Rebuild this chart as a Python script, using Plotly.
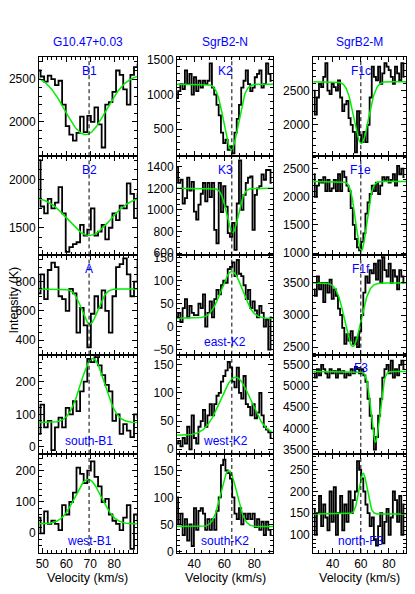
import numpy as np
import plotly.graph_objects as go
from plotly.subplots import make_subplots

# column sources and systemic velocities (dashed lines)
sources = ['G10.47+0.03', 'SgrB2-N', 'SgrB2-M']
v_sys = [69.5, 65.0, 60.0]

# velocity channels (km/s)
vel_g10 = [48.5, 50.0, 51.5, 53.0, 54.5, 56.0, 57.5, 59.0, 60.5, 62.0, 63.5, 65.0, 66.5, 68.0, 69.5,
           71.0, 72.5, 74.0, 75.5, 77.0, 78.5, 80.0, 81.5, 83.0, 84.5, 86.0, 87.5, 89.0, 90.5]
vel_sgrb2n = [28.5, 30.0, 31.5, 33.0, 34.5, 36.0, 37.5, 39.0, 40.5, 42.0, 43.5, 45.0, 46.5, 48.0, 49.5,
              51.0, 52.5, 54.0, 55.5, 57.0, 58.5, 60.0, 61.5, 63.0, 64.5, 66.0, 67.5, 69.0, 70.5, 72.0,
              73.5, 75.0, 76.5, 78.0, 79.5, 81.0, 82.5, 84.0, 85.5, 87.0, 88.5, 90.0, 91.5]
vel_sgrb2m = [26.5, 28.0, 29.5, 31.0, 32.5, 34.0, 35.5, 37.0, 38.5, 40.0, 41.5, 43.0, 44.5, 46.0, 47.5,
              49.0, 50.5, 52.0, 53.5, 55.0, 56.5, 58.0, 59.5, 61.0, 62.5, 64.0, 65.5, 67.0, 68.5, 70.0,
              71.5, 73.0, 74.5, 76.0, 77.5, 79.0, 80.5, 82.0, 83.5, 85.0, 86.5, 88.0, 89.5, 91.0]

# spectra, G10.47+0.03
B1 = [2600, 2530, 2470, 2540, 2500, 2430, 2480, 2200, 1950, 1850, 1780, 1870, 2060, 1880, 2070,
      2000, 2170, 1970, 1700, 2200, 2230, 2350, 2600, 2550, 2380, 2200, 2550, 2640, 2670]
B2 = [2200, 1720, 1650, 1800, 1700, 1760, 1920, 1650, 1250, 1300, 1330, 1350, 1530, 1420, 1480,
      1700, 1420, 1460, 1530, 1380, 1500, 1650, 1580, 1730, 1700, 1960, 1850, 1600, 1850]
A = [720, 850, 680, 880, 930, 900, 700, 680, 600, 750, 720, 450, 620, 500, 350,
     580, 700, 620, 740, 600, 450, 700, 900, 920, 960, 850, 700, 800, 950]
south_B1 = [40, 130, 60, 80, -10, 60, 90, 60, 120, 100, 140, 110, 170, 200, 270,
            260, 275, 250, 220, 190, 170, 80, 100, 40, 70, 50, 30, 100, 90]
west_B1 = [50, 0, 70, 30, 40, 30, 10, 90, 60, 100, 130, 210, 190, 160, 200,
           230, 180, 150, 100, 110, 60, 40, 30, 10, 50, 90, -50, 60, 40]

# spectra, SgrB2-N
K2 = [950, 1050, 1150, 1080, 1350, 1150, 1300, 1000, 1250, 1050, 1200, 1100, 1200, 1150, 1200,
      1450, 1100, 1000, 850, 700, 450, 300, 350, 200, 250, 150, 450, 650, 850, 1100,
      1200, 1350, 1150, 1050, 1100, 1250, 1300, 1350, 1100, 1150, 1450, 1300, 1200]
K3 = [1400, 1250, 1280, 1060, 1110, 1300, 1180, 1260, 985, 910, 1050, 1150, 1250, 1080, 1250,
      1120, 1250, 815, 690, 1250, 980, 1220, 1030, 785, 750, 880, 630, 1060, 1460, 1000,
      1140, 1250, 1300, 1310, 815, 1140, 1200, 1220, 1330, 1280, 1370, 1370, 1250]
east_K2 = [20, 30, 10, 40, 60, 20, 45, 30, 25, 25, 50, 40, 70, 0, 30,
           55, 20, 60, 80, 70, 90, 100, 95, 125, 130, 140, 110, 145, 115, 110,
           90, 60, 80, 40, 55, 35, 20, 45, 30, 0, 15, -50, 20]
west_K2 = [10, 15, 5, 20, 10, 40, 0, 60, 20, 10, 40, 50, 70, 40, 60,
           80, 60, 80, 95, 100, 120, 130, 140, 155, 145, 120, 110, 145, 100, 90,
           130, 80, 75, 60, 80, 55, 65, 100, 60, 40, 35, 30, 20]
south_K2 = [100, 50, 70, 30, 60, 20, 50, 10, 80, 40, 75, 80, 70, 40, 60,
            40, 60, 40, 75, 100, 160, 170, 150, 145, 135, 100, 70, 60, 80, 50,
            70, 60, 70, 60, 70, 45, 60, 40, 55, 30, 55, 40, 30]

# spectra, SgrB2-M
F1c = [2500, 2150, 2400, 2600, 2550, 2700, 2900, 2500, 2450, 2600, 2550, 2500, 2650, 2400, 2200,
       2300, 2350, 2100, 2000, 1900, 1600, 2200, 1850, 1750, 1900, 1750, 2000, 2400, 2850, 2700,
       2650, 2850, 2600, 2750, 2900, 2850, 2800, 2700, 2600, 2850, 2750, 2650, 2900, 2700]
F1e = [2400, 2000, 2200, 2300, 2250, 2350, 2100, 2300, 2100, 2150, 2300, 2100, 2400, 2100, 2450,
       2350, 2200, 2100, 1800, 1500, 1250, 1100, 1050, 1200, 1350, 1700, 1900, 2050, 2200, 2100,
       2250, 2050, 2200, 2350, 2300, 2350, 2250, 2300, 2400, 2200, 2550, 2400, 2500, 2350]
F1f = [3400, 3300, 3600, 3400, 3500, 3200, 3500, 3350, 3550, 3250, 3400, 3300, 3100, 3000, 2800,
       2550, 2700, 2600, 2750, 2550, 2650, 2500, 2750, 3000, 3350, 3600, 3500, 3700, 3650, 3800,
       3550, 3850, 3500, 3900, 3700, 3600, 3800, 3500, 3700, 3600, 3400, 3700, 3600, 3500]
F3 = [5300, 5200, 5400, 5250, 5500, 5400, 5300, 5200, 5400, 5300, 5350, 5200, 5400, 5300, 5350,
      5200, 5300, 5250, 5400, 5300, 5450, 5400, 5300, 5400, 5250, 5100, 4700, 4300, 4000, 3500,
      3800, 4300, 4700, 5200, 5400, 5500, 5300, 5600, 5200, 5400, 5250, 5500, 5600, 5400]
north_F3 = [160, 100, 150, 190, 120, 170, 140, 110, 200, 130, 210, 100, 150, 190, 110,
            170, 130, 200, 150, 180, 200, 270, 250, 230, 200, 170, 150, 120, 140, 90,
            75, 120, 150, 80, 130, 160, 100, 140, 200, 180, 130, 190, 100, 170]

spectra = [[B1, K2, F1c], [B2, K3, F1e], [A, east_K2, F1f],
           [south_B1, west_K2, F3], [west_B1, south_K2, north_F3]]
velocities = [vel_g10, vel_sgrb2n, vel_sgrb2m]
labels = [['B1', 'K2', 'F1c'], ['B2', 'K3', 'F1e'], ['A', 'east-K2', 'F1f'],
          ['south-B1', 'west-K2', 'F3'], ['west-B1', 'south-K2', 'north-F3']]
label_top = [[True, True, True], [True, True, True], [True, False, True],
             [False, False, True], [False, False, False]]

# gaussian fits: baseline, amplitude, centre, sigma
fit_base = [[2560, 1150, 2630], [1825, 1200, 2272], [750, 18, 3500], [75, 25, 5340], [30, 46, 148]]
fit_amp = [[-710, -950, -900], [-405, -410, -1230], [-240, 102, -990], [196, 103, -1656], [142, 104, 94]]
fit_cen = [[68.0, 64.5, 60.3], [69.5, 65.5, 60.3], [69.8, 65.0, 54.3], [71.0, 67.5, 70.4], [69.1, 63.0, 61.6]]
fit_sig = [[8.5, 4.7, 5.1], [8.7, 3.8, 3.8], [3.3, 7.0, 5.7], [5.0, 10.0, 3.05], [5.5, 5.2, 2.9]]

x_ranges = [[48.6, 89.5], [28.5, 92.5], [26.1, 92.1]]
y_ranges = [[[1598, 2758], [109, 1543], [1544, 2990]],
            [[1214, 2241], [579, 1498], [959, 2721]],
            [[300, 980], [-61, 155], [2383, 3929]],
            [[-21, 283], [-8, 168], [3404, 5740]],
            [[-63, 254], [-3, 181], [58, 287]]]
y_dticks = [[500, 500, 500], [500, 200, 500], [200, 50, 500], [100, 50, 500], [100, 50, 50]]
label_x = [69.5, 60.5, 60.0]

FONT = 'Liberation Sans, Arial, sans-serif'

fig = make_subplots(rows=5, cols=3, vertical_spacing=0, horizontal_spacing=0.1)
col_domains = [[0, 0.267], [0.376, 0.638], [0.747, 1.0]]

for r in range(5):
    for c in range(3):
        vel = velocities[c]
        fig.add_trace(go.Scatter(x=vel, y=spectra[r][c], mode='lines', line_shape='hvh',
                                 line=dict(color='black', width=1.8), showlegend=False),
                      row=r + 1, col=c + 1)
        xx = np.linspace(x_ranges[c][0], x_ranges[c][1], 300)
        gg = fit_base[r][c] + fit_amp[r][c] * np.exp(-(xx - fit_cen[r][c]) ** 2 / (2 * fit_sig[r][c] ** 2))
        fig.add_trace(go.Scatter(x=xx, y=gg, mode='lines', line=dict(color='#00ee00', width=1.5),
                                 showlegend=False), row=r + 1, col=c + 1)
        fig.add_trace(go.Scatter(x=[v_sys[c], v_sys[c]], y=y_ranges[r][c], mode='lines',
                                 line=dict(color='black', width=1, dash='4px,3px'), showlegend=False),
                      row=r + 1, col=c + 1)

        xdt = 10 if c == 0 else 20
        fig.update_xaxes(range=x_ranges[c], domain=col_domains[c], dtick=xdt,
                         minor=dict(dtick=2 if c == 0 else 5, ticks='inside', ticklen=3,
                                    tickcolor='black'),
                         showticklabels=(r == 4), row=r + 1, col=c + 1)
        ydt = y_dticks[r][c]
        fig.update_yaxes(range=y_ranges[r][c], dtick=ydt,
                         minor=dict(dtick=ydt / 4 if ydt == 200 else ydt / 5, ticks='inside',
                                    ticklen=3, tickcolor='black'),
                         row=r + 1, col=c + 1)

        xref = fig.get_subplot(r + 1, c + 1).xaxis.plotly_name.replace('axis', '')
        yref = fig.get_subplot(r + 1, c + 1).yaxis.plotly_name.replace('axis', '')
        fig.add_annotation(x=label_x[c], y=0.86 if label_top[r][c] else 0.125,
                           xref=xref, yref=yref + ' domain', text=labels[r][c], showarrow=False,
                           xanchor='center', yanchor='middle',
                           font=dict(color='blue', size=12, family=FONT))

fig.update_xaxes(showgrid=False, zeroline=False, showline=True, linecolor='black', linewidth=1,
                 mirror='allticks', ticks='inside', ticklen=5, tickcolor='black',
                 tickfont=dict(size=12, color='black', family=FONT))
fig.update_yaxes(showgrid=False, zeroline=False, showline=True, linecolor='black', linewidth=1,
                 mirror='allticks', ticks='inside', ticklen=5, tickcolor='black',
                 tickfont=dict(size=12, color='black', family=FONT))

title_x = [sum(d) / 2 for d in col_domains]
for c in range(3):
    fig.add_annotation(x=title_x[c], y=1.03, xref='paper', yref='paper', text=sources[c],
                       showarrow=False, xanchor='center', yanchor='middle',
                       font=dict(color='blue', size=12, family=FONT))
    fig.add_annotation(x=title_x[c], y=-0.05, xref='paper', yref='paper', text='Velocity (km/s)',
                       showarrow=False, xanchor='center', yanchor='middle',
                       font=dict(color='black', size=12.5, family=FONT))
fig.add_annotation(x=-0.067, y=0.51, xref='paper', yref='paper', text='Intensity (K)',
                   textangle=-90, showarrow=False, xanchor='center', yanchor='middle',
                   font=dict(color='black', size=12.5, family=FONT))

# the page body adds an 8px margin all round, so keep the figure inside the window
fig.update_layout(width=399, height=578, margin=dict(l=31, r=1, t=49, b=33),
                  plot_bgcolor='white', paper_bgcolor='white')
fig.write_html("out.html")
